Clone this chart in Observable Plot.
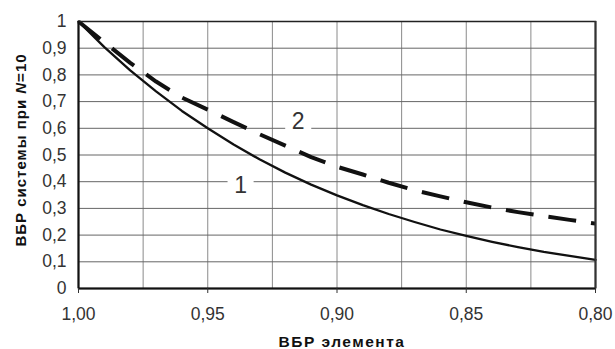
<!DOCTYPE html>
<html>
<head>
<meta charset="utf-8">
<script src="https://cdn.jsdelivr.net/npm/d3@7"></script>
<script src="https://cdn.jsdelivr.net/npm/@observablehq/plot@0.6"></script>
<style>
  html, body { margin: 0; padding: 0; background: #fff; }
  #chart svg { display: block; }
</style>
</head>
<body>
<div id="chart"></div>
<script>
// Element reliability (x axis, reversed)
const elementP = [1.00, 0.99, 0.98, 0.97, 0.96, 0.95, 0.94, 0.93, 0.92, 0.91, 0.90,
                  0.89, 0.88, 0.87, 0.86, 0.85, 0.84, 0.83, 0.82, 0.81, 0.80];
// Curve 1 (solid)
const curve1 = [1.000, 0.904, 0.817, 0.738, 0.665, 0.600, 0.539, 0.484, 0.434, 0.389, 0.349,
                0.312, 0.279, 0.249, 0.221, 0.197, 0.175, 0.155, 0.137, 0.122, 0.107];
// Curve 2 (dashed)
const curve2 = [1.000, 0.922, 0.845, 0.775, 0.715, 0.670, 0.623, 0.578, 0.535, 0.492, 0.456,
                0.427, 0.396, 0.368, 0.345, 0.323, 0.303, 0.286, 0.271, 0.257, 0.243];
const xTicks = [1.00, 0.95, 0.90, 0.85, 0.80];
const xGrid = [1.00, 0.975, 0.95, 0.925, 0.90, 0.875, 0.85, 0.825, 0.80];
const yTicks = [0, 0.1, 0.2, 0.3, 0.4, 0.5, 0.6, 0.7, 0.8, 0.9, 1];
const curveLabels = ["1", "2"];
const labelX = [0.9373, 0.915];
const labelY = [0.386, 0.625];
const xTitle = "ВБР элемента";
const yTitleParts = ["ВБР системы при ", "N", "=10"];

const s1 = elementP.map((p, i) => ({x: p, y: curve1[i]}));
const s2 = elementP.map((p, i) => ({x: p, y: curve2[i]}));
const labels = curveLabels.map((t, i) => ({text: t, x: labelX[i], y: labelY[i]}));

const font = "'Liberation Sans', Arial, Helvetica, sans-serif";
const xFmt = d => d.toFixed(2).replace(".", ",");
const yFmt = d => (d === 0 ? "0" : d === 1 ? "1" : d.toFixed(1).replace(".", ","));

const svg = Plot.plot({
  width: 615,
  height: 349,
  marginLeft: 78,
  marginRight: 20,
  marginTop: 21,
  marginBottom: 61,
  style: {fontFamily: font, background: "#fff", color: "#333"},
  x: {domain: [1, 0.8], label: null},
  y: {domain: [0, 1], label: null},
  marks: [
    Plot.gridX(xGrid, {stroke: "#8a8a8a", strokeOpacity: 1, strokeWidth: 1}),
    Plot.gridY(yTicks, {stroke: "#666", strokeOpacity: 1, strokeWidth: 1}),
    Plot.dot(labels, {x: "x", y: "y", symbol: "square", r: 14.7, fill: "white", stroke: "none"}),
    Plot.line(s1, {x: "x", y: "y", stroke: "#111", strokeWidth: 2.3}),
    Plot.line(s2, {x: "x", y: "y", stroke: "#111", strokeWidth: 4, strokeDasharray: "28,15", strokeLinecap: "butt"}),
    Plot.text(labels, {x: "x", y: "y", text: "text", fontSize: 23, fill: "#333", fontFamily: font}),
    Plot.frame({stroke: "#222", strokeWidth: 1.5}),
    Plot.ruleX([1], {stroke: "#111", strokeWidth: 2}),
    Plot.ruleY([0], {stroke: "#111", strokeWidth: 2}),
    Plot.ruleX([0.8], {stroke: "#333", strokeWidth: 2}),
    Plot.axisX({ticks: xTicks, tickFormat: xFmt, tickSize: 5, tickPadding: 14, fontSize: 17.5, stroke: "#333", fill: "#333", label: null}),
    Plot.axisY({ticks: yTicks, tickFormat: yFmt, tickSize: 0, tickPadding: 12, fontSize: 17.5, fill: "#333", label: null})
  ]
});

const root = d3.select(svg);
root.append("text")
  .attr("x", 342)
  .attr("y", 347)
  .attr("text-anchor", "middle")
  .attr("font-family", font)
  .attr("font-size", 15.5)
  .attr("letter-spacing", "1.5px")
  .attr("font-weight", "bold")
  .attr("fill", "#111")
  .text(xTitle);

const yt = root.append("text")
  .attr("transform", "translate(26,150) rotate(-90)")
  .attr("text-anchor", "middle")
  .attr("font-family", font)
  .attr("font-size", 15)
  .attr("letter-spacing", "1px")
  .attr("font-weight", "bold")
  .attr("fill", "#111");
yt.append("tspan").text(yTitleParts[0]);
yt.append("tspan").attr("font-style", "italic").text(yTitleParts[1]);
yt.append("tspan").text(yTitleParts[2]);

document.getElementById("chart").appendChild(svg);
</script>
</body>
</html>
